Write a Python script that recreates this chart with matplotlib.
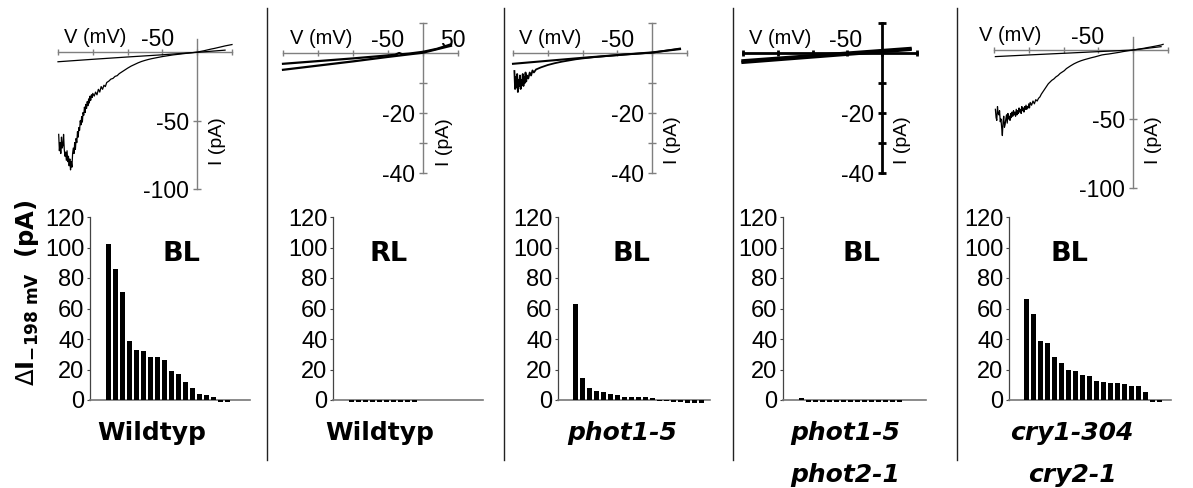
import matplotlib
matplotlib.use("Agg")
import matplotlib.pyplot as plt
from matplotlib.lines import Line2D

plt.rcParams['font.family'] = ['Liberation Sans', 'DejaVu Sans']
plt.rcParams['mathtext.fontset'] = 'dejavusans'

# ---------------- data ----------------
V_TICKS = [-200, -150, -100, -50, 0, 50]

# Panel 1 (Wildtyp, BL) I-V traces
p1_light_V = [-199, -198, -197, -196, -195, -194, -193, -192, -191, -190,
              -189, -188, -187, -186, -185, -184, -183, -182, -181, -180,
              -179, -178, -177, -176, -175, -174, -173, -172, -171, -170,
              -169, -168, -167, -166, -165, -164, -163, -162, -161, -160,
              -159, -158, -157, -156, -155, -154, -153, -152, -151, -150,
              -148, -146, -144, -142, -140, -138, -136, -134, -132, -130,
              -127, -124, -121, -118, -115, -112, -109, -106, -103, -100,
              -95, -90, -85, -80, -75, -70, -65, -60, -55, -50,
              -45, -40, -35, -30, -25, -20, -15, -10, -5, 0,
              5, 10, 15, 20, 25, 30, 35, 40, 45, 50]
p1_light_I = [-60, -72, -66, -74, -62, -70, -68, -60, -71, -76,
              -73, -79, -72, -80, -76, -83, -78, -86, -80, -84,
              -74, -70, -74, -66, -71, -63, -66, -58, -62, -55,
              -57, -50, -53, -47, -51, -44, -46, -40, -44, -38,
              -41, -36, -39, -34, -37, -32, -35, -31, -33, -30,
              -32, -29, -31, -27, -29, -25, -27, -24, -25, -22,
              -21, -19.5, -19, -17.5, -17, -15.5, -14.5, -13.5, -12.5, -11.5,
              -10, -8.8, -7.6, -6.6, -5.8, -5.1, -4.5, -4.0, -3.5, -3.0,
              -2.6, -2.2, -1.8, -1.5, -1.2, -0.9, -0.6, -0.3, 0.0, 0.3,
              0.8, 1.3, 1.9, 2.5, 3.0, 3.6, 4.2, 4.8, 5.3, 5.8]
p1_ctrl_V = [-200, -150, -100, -50, 0, 40]
p1_ctrl_I = [-6.8, -5.0, -3.3, -1.7, 0.1, 1.7]

# Panel 2 (Wildtyp, RL)
p2_a_V = [-200, -150, -100, -60, -40, -34, -30, -20, 0, 20, 40]
p2_a_I = [-3.6, -2.7, -1.8, -1.0, -0.6, 0.0, -0.4, -0.2, 0.4, 1.4, 2.9]
p2_b_V = [-200, -150, -100, -50, 0, 40]
p2_b_I = [-5.6, -4.2, -2.8, -1.3, 0.1, 2.4]

# Panel 3 (phot1-5, BL)
p3_light_V = [-198, -197, -196, -195, -194, -193, -192, -191, -190, -189,
              -188, -187, -186, -185, -184, -183, -182, -181, -180, -178,
              -176, -174, -172, -170, -167, -164, -160, -155, -150, -145,
              -140, -130, -120, -110, -100, -80, -60, -40, -20, 0,
              20, 40]
p3_light_I = [-6, -12, -8, -11.5, -7, -13, -9, -11, -7.5, -12,
              -9, -10.5, -7, -11, -8, -10, -6.5, -9.5, -7.5, -8.5,
              -6.5, -7.5, -5.8, -6.5, -5.5, -5.2, -4.8, -4.4, -4.0, -3.7,
              -3.4, -2.9, -2.5, -2.1, -1.8, -1.3, -0.9, -0.5, -0.2, 0.1,
              0.8, 1.5]
p3_ctrl_V = [-200, -150, -100, -50, 0, 40]
p3_ctrl_I = [-3.6, -2.6, -1.6, -0.7, 0.2, 1.3]

# Panel 4 (phot1-5 phot2-1, BL)
p4_a_V = [-200, 40]
p4_a_I = [-2.6, 1.5]
p4_b_V = [-200, 40]
p4_b_I = [-3.1, 1.2]

# Panel 5 (cry1-304 cry2-1, BL)
p5_light_V = [-198, -197, -196, -195, -194, -193, -192, -191, -190, -189,
              -188, -187, -186, -185, -184, -183, -182, -181, -180, -179,
              -178, -177, -176, -175, -174, -173, -172, -171, -170, -169,
              -168, -167, -166, -165, -164, -163, -162, -161, -160, -159,
              -158, -157, -156, -155, -154, -153, -152, -151, -150, -149,
              -148, -146, -144, -142, -140, -138, -136, -134, -132, -130,
              -128, -126, -124, -122, -120, -117, -114, -111, -108, -105,
              -102, -99, -96, -93, -90, -85, -80, -75, -70, -65,
              -60, -55, -50, -45, -40, -35, -30, -25, -20, -15,
              -10, -5, 0, 5, 10, 15, 20, 30, 40, 43]
p5_light_I = [-43, -49, -51, -41, -46, -47, -44, -52, -50, -56,
              -62, -52, -48, -56, -54, -50, -47, -53, -46, -50,
              -48, -51, -46, -49, -45, -48, -44, -47, -45, -48,
              -43, -47, -44, -46, -42, -45, -43, -46, -41, -44,
              -42, -45, -41, -43, -40, -43, -41, -42, -39, -42,
              -38, -40, -37, -39, -36, -37, -35, -34, -32, -30.5,
              -29, -27.5, -26, -24.5, -23.5, -22, -21, -19.5, -18.5, -17,
              -16, -15, -13.5, -12.5, -11.5, -10, -8.8, -7.8, -7, -6.3,
              -5.6, -5, -4.3, -3.6, -3.2, -2.9, -2.5, -2.1, -1.7, -1.2,
              -0.8, -0.4, 0, 0.4, 0.8, 1.2, 1.7, 2.6, 3.6, 4.1]
p5_ctrl_V = [-198, -150, -100, -50, 0, 40]
p5_ctrl_I = [-4.8, -3.6, -2.4, -1.2, 0, 2.4]

# Bar charts: delta I at -198 mV (pA), one bar per cell
bars_wt_bl = [102, 86, 71, 39, 33, 32, 28, 28, 26, 19, 17, 12, 8, 4, 3, 2, -1.5, -1.5]
bars_wt_rl = [-1.5, -1.5, -1.5, -1.5, -1.5, -1.5, -1.5, -1.5, -1.5, -1.5]
bars_phot1 = [63, 14.5, 8, 6, 5, 4, 3, 2.2, 2.2, 2.2, 2.2, 1.1, -0.7, -0.7, -1, -1, -2, -2, -2]
bars_phot12 = [1.3, -1.5, -1.5, -1.5, -1.5, -1.5, -1.5, -1.5, -1.5, -1.5, -1.5, -1.5, -1.5, -1.5, -1.5]
bars_cry = [66, 56.5, 38.5, 37.5, 28.5, 24.5, 20, 19, 16.5, 15.5, 12.5, 12, 11.3, 11, 10.5, 9, 9, 5.5, -1.5, -1.5]
bar_yticks = [0, 20, 40, 60, 80, 100, 120]

light_labels = ['BL', 'RL', 'BL', 'BL', 'BL']
genotype_lines = [['Wildtyp'], ['Wildtyp'], ['phot1-5'], ['phot1-5', 'phot2-1'], ['cry1-304', 'cry2-1']]
genotype_italic = [False, False, True, True, True]

# ---------------- figure ----------------
W, H = 1193, 488
fig = plt.figure(figsize=(W / 100, H / 100), dpi=100)


def fx(px):
    return px / W


def fy(py):
    return 1 - py / H


def px_axes(l, t, r, b):
    return fig.add_axes([l / W, 1 - b / H, (r - l) / W, (b - t) / H])


def setup_iv(ax, ylim, yticks, ylabels, color, lw, vlab_x, m50_x, p50_x, ilab):
    ax.set_xlim(-200, 50)
    ax.set_ylim(*ylim)
    ax.patch.set_visible(False)
    for s in ['top', 'right']:
        ax.spines[s].set_visible(False)
    for s in ['left', 'bottom']:
        ax.spines[s].set_position(('data', 0))
        ax.spines[s].set_color(color)
        ax.spines[s].set_linewidth(lw)
        ax.spines[s].set_zorder(1)
    ax.set_xticks(V_TICKS)
    ax.tick_params(axis='x', direction='inout', length=5, width=lw, color=color,
                   labelbottom=False)
    ax.set_yticks(yticks)
    ax.set_yticklabels(ylabels)
    ax.tick_params(axis='y', direction='inout', length=6, width=lw, color=color,
                   labelsize=16.5, pad=3)
    ax.annotate('V (mV)', xy=(vlab_x, 0), xytext=(0, 6.5), textcoords='offset points',
                ha='center', va='baseline', fontsize=14.5)
    ax.annotate('-50', xy=(m50_x, 0), xytext=(0, 4.5), textcoords='offset points',
                ha='center', va='baseline', fontsize=16.5)
    ax.annotate('50', xy=(p50_x, 0), xytext=(0, 4.5), textcoords='offset points',
                ha='center', va='baseline', fontsize=16.5)
    ax.text(ilab[0], ilab[1], 'I (pA)', rotation=90, ha='center', va='center', fontsize=14)


# I-V panels
ax1 = px_axes(58, 39.5, 232, 189)
setup_iv(ax1, (-100, 9.5), [-50, -100], ['-50', '-100'], '#7f7f7f', 1.0,
         -146, -57, 58, (28.6, -64.6))
ax1.plot(p1_ctrl_V, p1_ctrl_I, color='black', lw=0.9, clip_on=False)
ax1.plot(p1_light_V, p1_light_I, color='black', lw=0.9, clip_on=False)

ax2 = px_axes(283, 23, 458, 173)
setup_iv(ax2, (-40, 10), [10, -10, -20, -30, -40], ['', '', '-20', '', '-40'], '#7f7f7f', 1.0,
         -145, -50, 43, (31.4, -29.6))
ax2.plot(p2_a_V, p2_a_I, color='black', lw=1.6, clip_on=False)
ax2.plot(p2_b_V, p2_b_I, color='black', lw=1.6, clip_on=False)

ax3 = px_axes(513, 23, 687, 173)
setup_iv(ax3, (-40, 10), [10, -10, -20, -30, -40], ['', '', '-20', '', '-40'], '#7f7f7f', 1.0,
         -146, -50, 52, (28.6, -29))
ax3.plot(p3_ctrl_V, p3_ctrl_I, color='black', lw=1.5, clip_on=False)
ax3.plot(p3_light_V, p3_light_I, color='black', lw=1.3, clip_on=False)

ax4 = px_axes(743, 23, 917, 173)
setup_iv(ax4, (-40, 10), [10, -10, -20, -30, -40], ['', '', '-20', '', '-40'], 'black', 2.0,
         -146, -52, 53, (28.6, -29))
ax4.plot(p4_a_V, p4_a_I, color='black', lw=2.4, clip_on=False)
ax4.plot(p4_b_V, p4_b_I, color='black', lw=2.4, clip_on=False)

ax5 = px_axes(994, 37, 1168, 188)
setup_iv(ax5, (-100, 9.4), [-50, -100], ['-50', '-100'], '#7f7f7f', 1.0,
         -177, -66, 51, (28.6, -65))
ax5.plot(p5_ctrl_V, p5_ctrl_I, color='black', lw=0.9, clip_on=False)
ax5.plot(p5_light_V, p5_light_I, color='black', lw=0.9, clip_on=False)

# Bar panels
PITCH = 7.0
ZERO_PY, TOP_PY, BOT_PY = 400, 217, 410
bar_sets = [bars_wt_bl, bars_wt_rl, bars_phot1, bars_phot12, bars_cry]
bar_geo = [(90, 250, 105), (333, 483, 348), (558, 710, 572), (783, 926, 798), (1009, 1171, 1023)]
label_centers = [(181, 152), (389, 380), (631, 622), (861, 845), (1069, 1072)]

for vals, (L, R, B), lab, (bl_x, g_x), glines, ital in zip(
        bar_sets, bar_geo, light_labels, label_centers, genotype_lines, genotype_italic):
    ax = px_axes(L, TOP_PY, R, BOT_PY)
    x0 = -0.5 - (B - L) / PITCH
    ax.set_xlim(x0, x0 + (R - L) / PITCH)
    unit = (ZERO_PY - TOP_PY) / 120.0
    ax.set_ylim(-(BOT_PY - ZERO_PY) / unit, 120)
    ax.bar(range(len(vals)), vals, width=0.85, color='black', edgecolor='none', zorder=3)
    ax.patch.set_visible(False)
    for s in ['top', 'right']:
        ax.spines[s].set_visible(False)
    ax.spines['left'].set_bounds(0, 120)
    ax.spines['left'].set_color('#444444')
    ax.spines['left'].set_linewidth(0.9)
    ax.spines['bottom'].set_position(('data', 0))
    ax.spines['bottom'].set_color('#777777')
    ax.spines['bottom'].set_linewidth(1.2)
    ax.set_xticks([])
    ax.set_yticks(bar_yticks)
    ax.set_yticklabels([str(v) for v in bar_yticks])
    ax.tick_params(axis='y', direction='out', length=2.5, width=0.8, color='#444444',
                   labelsize=17, pad=1.5)
    fig.text(fx(bl_x), fy(254), lab, ha='center', va='center', fontsize=19.5,
             fontweight='bold', family='DejaVu Sans')
    for k, g in enumerate(glines):
        fig.text(fx(g_x), fy(440 + 42 * k), g, ha='center', va='baseline', fontsize=18,
                 fontweight='bold', family='DejaVu Sans',
                 style='italic' if ital else 'normal')

fig.text(fx(27), fy(293), r'$\Delta\mathbf{I}_{\mathbf{-198\ mV}}\ \ \mathbf{(pA)}$',
         rotation=90, ha='center', va='center', fontsize=17.5)

# panel separators
for x in [267, 504, 733, 957]:
    fig.add_artist(Line2D([fx(x), fx(x)], [fy(8), fy(460)], color='#222222', lw=1.0))

fig.savefig('out.png', dpi=100)
